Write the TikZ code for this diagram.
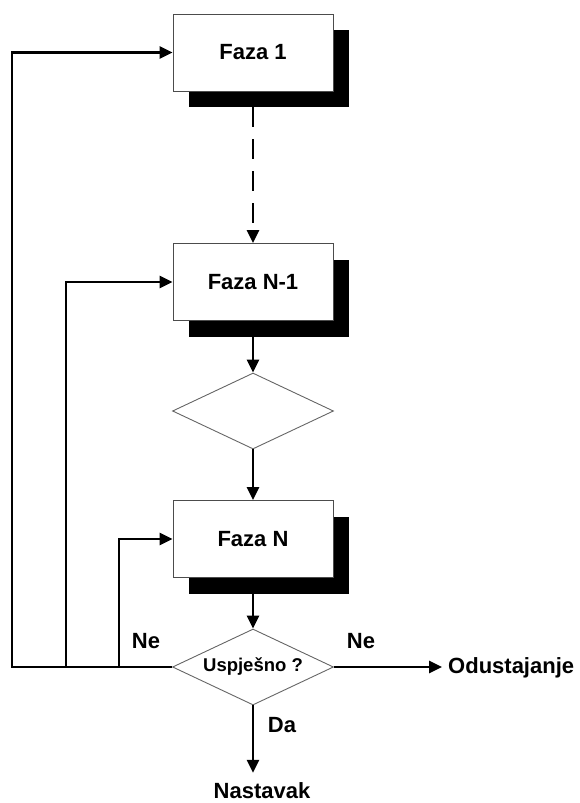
\documentclass[tikz,border=0pt]{standalone}
\usepackage{fontspec}
\setmainfont{Liberation Sans}
\usetikzlibrary{arrows.meta,shapes.geometric,shadows}

\tikzset{
	faza/.style={draw=black!70, fill=white, line width=0.9pt, minimum width=160, minimum height=77, font=\fontsize{22}{26}\selectfont\bfseries, drop shadow={shadow xshift=16pt, shadow yshift=-16pt, fill=black, opacity=1}},
	odluka/.style={diamond, draw=black!60, fill=white, line width=0.9pt, minimum width=161, minimum height=76, aspect=2.1, inner sep=0pt, font=\fontsize{18.5}{22}\selectfont\bfseries},
	veza/.style={line width=2.6pt, -{Triangle[length=13pt, width=12pt]}},
	oznaka/.style={font=\fontsize{22}{26}\selectfont\bfseries, inner sep=0pt, anchor=base}
}

\begin{document}
\begin{tikzpicture}[x=1pt, y=-1pt]
	\useasboundingbox (0,0) rectangle (579,803);
	
	\foreach \i/\t/\y in {1/Faza 1/52.5, 2/Faza N-1/282, 3/Faza N/539}
	{
		\node[faza] (f\i) at (253,\y) {\t};
	}
	
	\node[odluka] (d1) at (253,411) {};
	\node[odluka] (d2) at (253,667) {Uspješno ?};
	
	\node[oznaka, inner ysep=9pt] (nast) at (262,798) {Nastavak};
	\node[oznaka, anchor=base west, inner xsep=6pt] (odust) at (442,673) {Odustajanje};
	\node[oznaka] (ne1) at (146,648) {Ne};
	\node[oznaka] (ne2) at (361,648) {Ne};
	\node[oznaka] (da) at (282,732) {Da};
	
	\coordinate (k1) at (12,667);
	\coordinate (k2) at (66,667);
	\coordinate (k3) at (119,667);
	
	\draw[veza, dash pattern=on 20pt off 12pt] ([yshift=-16pt]f1.south) -- (f2.north);
	\draw[veza] (f2.south) -- (d1.north);
	\draw[veza] (d1.south) -- (f3.north);
	\draw[veza] (f3.south) -- (d2.north);
	
	\draw[veza] (d2.south) -- (d2.south |- nast.north);
	\draw[veza] (d2.east) -- (d2.east -| odust.west);
	
	\draw[veza] (d2.west) -- (k1) |- (f1.west);
	\draw[veza] (k2) |- (f2.west);
	\draw[veza] (k3) |- (f3.west);
	
\end{tikzpicture}
\end{document}
